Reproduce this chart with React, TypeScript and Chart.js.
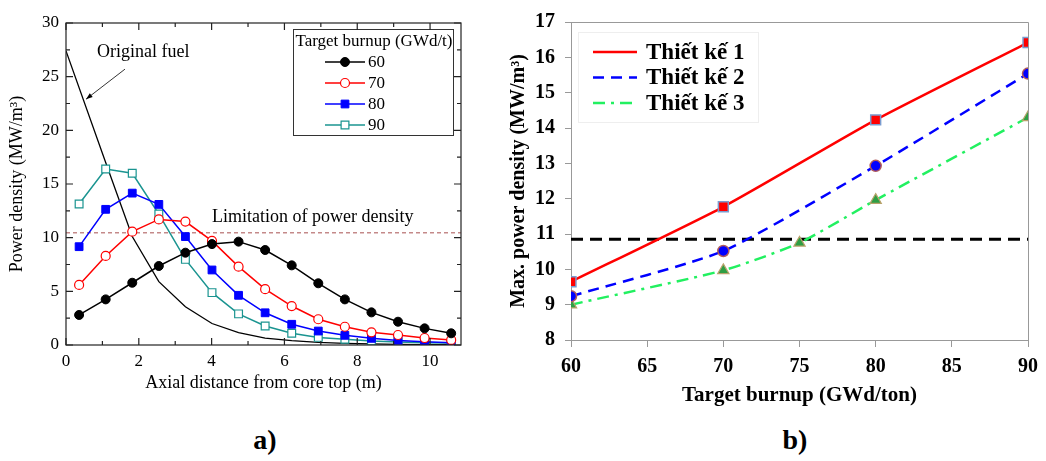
import React, { useEffect, useRef } from 'react';
import { Chart, registerables } from 'chart.js';

Chart.register(...registerables);

const SERIF = '"Liberation Serif", "Times New Roman", serif';

// ---------- Chart a) : axial power density ----------
const axialPositions = [0.36, 1.09, 1.82, 2.55, 3.28, 4.01, 4.74, 5.47, 6.2, 6.93, 7.66, 8.39, 9.12, 9.85, 10.58];
const burnupLabelsA = ['60', '70', '80', '90'];
const density60 = [2.8, 4.25, 5.8, 7.36, 8.6, 9.4, 9.63, 8.85, 7.42, 5.75, 4.25, 3.04, 2.17, 1.55, 1.09];
const density70 = [5.6, 8.3, 10.56, 11.7, 11.5, 9.7, 7.3, 5.2, 3.63, 2.4, 1.7, 1.18, 0.93, 0.65, 0.47];
const density80 = [9.16, 12.64, 14.15, 13.1, 10.1, 6.99, 4.63, 3.0, 1.93, 1.3, 0.9, 0.62, 0.43, 0.31, 0.22];
const density90 = [13.14, 16.4, 16.0, 12.2, 7.98, 4.88, 2.9, 1.77, 1.09, 0.71, 0.53, 0.37, 0.28, 0.22, 0.19];
const originalFuelX = [0, 1.09, 1.82, 2.55, 3.28, 4.01, 4.74, 5.47, 6.2, 6.93, 7.66, 8.39, 9.12, 9.85, 10.58];
const originalFuelY = [27.4, 17.0, 10.1, 5.9, 3.57, 2.0, 1.15, 0.65, 0.4, 0.25, 0.16, 0.1, 0.06, 0.04, 0.03];
const limitA = 10.45;
const xRangeA = [0, 10.85];
const yRangeA = [0, 30];

// ---------- Chart b) : max power density vs burnup ----------
const burnupB = [60, 70, 80, 90];
const burnupB3 = [60, 70, 75, 80, 90];
const designLabels = ['Thiết kế 1', 'Thiết kế 2', 'Thiết kế 3'];
const design1 = [9.65, 11.77, 14.23, 16.42];
const design2 = [9.24, 10.52, 12.93, 15.54];
const design3 = [9.0, 9.97, 10.75, 11.96, 14.3];
const limitB = 10.85;
const xRangeB = [60, 90];
const yRangeB = [8, 17];

const pts = (xs: number[], ys: number[]) => xs.map((x, i) => ({ x, y: ys[i] }));

function drawMarker(ctx: CanvasRenderingContext2D, style: string, x: number, y: number, r: number, fill: string, stroke: string, lw: number) {
  ctx.beginPath();
  if (style === 'rect') {
    const s = r * Math.SQRT1_2;
    ctx.rect(x - s, y - s, 2 * s, 2 * s);
  } else {
    ctx.arc(x, y, r, 0, Math.PI * 2);
  }
  ctx.fillStyle = fill;
  ctx.fill();
  ctx.lineWidth = lw;
  ctx.strokeStyle = stroke;
  ctx.stroke();
}

const legendA = {
  id: 'legendA',
  afterDraw(chart: any) {
    const ctx: CanvasRenderingContext2D = chart.ctx;
    ctx.save();
    ctx.fillStyle = '#fff';
    ctx.fillRect(293.5, 29.5, 160, 106);
    ctx.strokeStyle = '#333';
    ctx.lineWidth = 1;
    ctx.strokeRect(293.5, 29.5, 160, 106);
    ctx.font = `17px ${SERIF}`;
    ctx.fillStyle = '#000';
    ctx.textBaseline = 'middle';
    ctx.textAlign = 'left';
    ctx.fillText('Target burnup (GWd/t)', 295.5, 42, 157);
    for (let i = 0; i < 4; i++) {
      const ds = chart.data.datasets[i];
      const y = 62 + i * 21;
      ctx.beginPath();
      ctx.moveTo(325, y);
      ctx.lineTo(365, y);
      ctx.strokeStyle = ds.borderColor;
      ctx.lineWidth = 1.5;
      ctx.stroke();
      drawMarker(ctx, ds.pointStyle, 345, y, ds.pointRadius, ds.pointBackgroundColor, ds.pointBorderColor, ds.pointBorderWidth);
      ctx.fillStyle = '#000';
      ctx.fillText(ds.label, 368, y + 1);
    }
    ctx.restore();
  },
};

const annotA = {
  id: 'annotA',
  afterDatasetsDraw(chart: any) {
    const ctx: CanvasRenderingContext2D = chart.ctx;
    const { x, y } = chart.scales;
    ctx.save();
    ctx.font = `18px ${SERIF}`;
    ctx.fillStyle = '#000';
    ctx.textBaseline = 'middle';
    ctx.textAlign = 'left';
    ctx.fillText('Original fuel', x.getPixelForValue(0.85), y.getPixelForValue(27.3));
    ctx.fillText('Limitation of power density', x.getPixelForValue(4.01), y.getPixelForValue(11.93));
    const x0 = x.getPixelForValue(1.62), y0 = y.getPixelForValue(25.7);
    const x1 = x.getPixelForValue(0.55), y1 = y.getPixelForValue(22.9);
    ctx.beginPath();
    ctx.moveTo(x0, y0);
    ctx.lineTo(x1, y1);
    ctx.strokeStyle = '#000';
    ctx.lineWidth = 0.8;
    ctx.stroke();
    const ang = Math.atan2(y1 - y0, x1 - x0);
    ctx.beginPath();
    ctx.moveTo(x1, y1);
    ctx.lineTo(x1 - 7 * Math.cos(ang - 0.35), y1 - 7 * Math.sin(ang - 0.35));
    ctx.lineTo(x1 - 7 * Math.cos(ang + 0.35), y1 - 7 * Math.sin(ang + 0.35));
    ctx.closePath();
    ctx.fillStyle = '#000';
    ctx.fill();
    ctx.restore();
  },
};

const innerTicks = {
  id: 'innerTicks',
  afterDraw(chart: any) {
    const ctx: CanvasRenderingContext2D = chart.ctx;
    const a = chart.chartArea;
    const { x, y } = chart.scales;
    ctx.save();
    ctx.strokeStyle = '#222';
    ctx.lineWidth = 1.2;
    ctx.strokeRect(a.left, a.top, a.right - a.left, a.bottom - a.top);
    ctx.beginPath();
    x.ticks.forEach((t: any) => {
      const px = x.getPixelForValue(t.value);
      const len = t.label ? 7 : 4;
      ctx.moveTo(px, a.bottom);
      ctx.lineTo(px, a.bottom - len);
      ctx.moveTo(px, a.top);
      ctx.lineTo(px, a.top + len);
    });
    y.ticks.forEach((t: any) => {
      const py = y.getPixelForValue(t.value);
      const len = t.label ? 7 : 4;
      ctx.moveTo(a.left, py);
      ctx.lineTo(a.left + len, py);
      ctx.moveTo(a.right, py);
      ctx.lineTo(a.right - len, py);
    });
    ctx.stroke();
    ctx.restore();
  },
};

const frameB = {
  id: 'frameB',
  afterDraw(chart: any) {
    const ctx: CanvasRenderingContext2D = chart.ctx;
    const a = chart.chartArea;
    ctx.save();
    ctx.strokeStyle = '#999';
    ctx.lineWidth = 1;
    ctx.beginPath();
    ctx.moveTo(a.left, a.top + 0.5);
    ctx.lineTo(a.right + 0.5, a.top + 0.5);
    ctx.lineTo(a.right + 0.5, a.bottom);
    ctx.stroke();
    ctx.restore();
  },
};

const legendB = {
  id: 'legendB',
  afterDraw(chart: any) {
    const ctx: CanvasRenderingContext2D = chart.ctx;
    ctx.save();
    ctx.fillStyle = '#fff';
    ctx.fillRect(98.5, 32.5, 180, 90);
    ctx.strokeStyle = '#eeeeee';
    ctx.lineWidth = 1;
    ctx.strokeRect(98.5, 32.5, 180, 90);
    ctx.font = `bold 23px ${SERIF}`;
    ctx.textBaseline = 'middle';
    ctx.textAlign = 'left';
    for (let i = 0; i < 3; i++) {
      const ds = chart.data.datasets[i];
      const y = 52 + i * 25.5;
      ctx.beginPath();
      ctx.setLineDash(ds.borderDash || []);
      ctx.moveTo(113, y);
      ctx.lineTo(157, y);
      ctx.strokeStyle = ds.borderColor;
      ctx.lineWidth = ds.borderWidth;
      ctx.stroke();
      ctx.setLineDash([]);
      ctx.fillStyle = '#000';
      ctx.fillText(ds.label, 166, y + 1);
    }
    ctx.restore();
  },
};

function useChart(ref: React.RefObject<HTMLCanvasElement>, makeConfig: () => any) {
  useEffect(() => {
    if (!ref.current) return;
    const chart = new Chart(ref.current, makeConfig());
    return () => chart.destroy();
  }, []);
}

function ChartA() {
  const ref = useRef<HTMLCanvasElement>(null);
  useChart(ref, () => ({
    type: 'line',
    data: {
      datasets: [
        { label: burnupLabelsA[0], data: pts(axialPositions, density60), borderColor: '#000', borderWidth: 1.5, pointStyle: 'circle', pointRadius: 4.5, pointBackgroundColor: '#000', pointBorderColor: '#000', pointBorderWidth: 1 },
        { label: burnupLabelsA[1], data: pts(axialPositions, density70), borderColor: '#ff0000', borderWidth: 1.5, pointStyle: 'circle', pointRadius: 4.5, pointBackgroundColor: '#fff', pointBorderColor: '#ff0000', pointBorderWidth: 1.2 },
        { label: burnupLabelsA[2], data: pts(axialPositions, density80), borderColor: '#0000ff', borderWidth: 1.5, pointStyle: 'rect', pointRadius: 5.5, pointBackgroundColor: '#0000ff', pointBorderColor: '#0000ff', pointBorderWidth: 1 },
        { label: burnupLabelsA[3], data: pts(axialPositions, density90), borderColor: '#1a9490', borderWidth: 1.5, pointStyle: 'rect', pointRadius: 5.5, pointBackgroundColor: '#fff', pointBorderColor: '#1a9490', pointBorderWidth: 1.2 },
        { label: 'Original fuel', data: pts(originalFuelX, originalFuelY), borderColor: '#000', borderWidth: 1.3, pointRadius: 0 },
        { label: 'Limitation of power density', data: pts(xRangeA, [limitA, limitA]), borderColor: '#a85050', borderWidth: 1, borderDash: [4, 3], pointRadius: 0 },
      ],
    },
    options: {
      animation: false,
      responsive: false,
      events: [],
      layout: { padding: { top: 23, right: 19, left: 0, bottom: 0 } },
      plugins: { legend: { display: false }, tooltip: { enabled: false } },
      scales: {
        x: {
          type: 'linear', min: xRangeA[0], max: xRangeA[1],
          grid: { display: false, drawTicks: false }, border: { display: false },
          ticks: { stepSize: 1, autoSkip: false, includeBounds: false, padding: 6, maxRotation: 0, color: '#000', font: { family: SERIF, size: 17 }, callback: (v: number) => (v % 2 === 0 ? String(v) : '') },
          title: { display: true, text: 'Axial distance from core top (m)', color: '#000', font: { family: SERIF, size: 18 }, padding: { top: 0, bottom: 6 } },
          afterFit: (s: any) => { s.height = 55; },
        },
        y: {
          type: 'linear', min: yRangeA[0], max: yRangeA[1],
          grid: { display: false, drawTicks: false }, border: { display: false },
          ticks: { stepSize: 2.5, autoSkip: false, includeBounds: false, padding: 7, color: '#000', font: { family: SERIF, size: 17 }, callback: (v: number) => (v % 5 === 0 ? String(v) : '') },
          title: { display: true, text: 'Power density (MW/m³)', color: '#000', font: { family: SERIF, size: 18 }, padding: { top: 6, bottom: 0 } },
          afterFit: (s: any) => { s.width = 66; },
        },
      },
    },
    plugins: [annotA, legendA, innerTicks],
  }));
  return <canvas ref={ref} width={480} height={400} style={{ position: 'absolute', left: 0, top: 0 }} />;
}

function ChartB() {
  const ref = useRef<HTMLCanvasElement>(null);
  useChart(ref, () => ({
    type: 'line',
    data: {
      datasets: [
        { label: designLabels[0], data: pts(burnupB, design1), borderColor: '#ff0000', borderWidth: 2.5, tension: 0.2, pointStyle: 'rect', pointRadius: 7, pointBackgroundColor: '#ff0000', pointBorderColor: '#7a9ccf', pointBorderWidth: 1.5 },
        { label: designLabels[1], data: pts(burnupB, design2), borderColor: '#0000ff', borderWidth: 2.5, borderDash: [11, 7], tension: 0.2, pointStyle: 'circle', pointRadius: 5.5, pointBackgroundColor: '#0000ff', pointBorderColor: '#b05a5a', pointBorderWidth: 1.5 },
        { label: designLabels[2], data: pts(burnupB3, design3), borderColor: '#22f060', borderWidth: 2.5, borderDash: [12, 6, 3, 6], tension: 0.2, pointStyle: 'triangle', pointRadius: 6.5, pointBackgroundColor: '#2e9e44', pointBorderColor: '#b8a26a', pointBorderWidth: 1.2 },
        { label: 'limit', data: pts(xRangeB, [limitB, limitB]), borderColor: '#000', borderWidth: 3, borderDash: [12, 7], pointRadius: 0 },
      ],
    },
    options: {
      animation: false,
      responsive: false,
      events: [],
      layout: { padding: { top: 16, right: 15, left: 0, bottom: 0 } },
      plugins: { legend: { display: false }, tooltip: { enabled: false } },
      scales: {
        x: {
          type: 'linear', min: xRangeB[0], max: xRangeB[1],
          grid: { display: true, drawOnChartArea: false, drawTicks: true, tickLength: 7, color: '#999' },
          border: { display: true, color: '#999' },
          ticks: { stepSize: 5, autoSkip: false, padding: 8, maxRotation: 0, color: '#000', font: { family: SERIF, size: 20, weight: 'bold' } },
          title: { display: true, text: 'Target burnup (GWd/ton)', color: '#000', font: { family: SERIF, size: 21, weight: 'bold' }, padding: { top: 0, bottom: 12 } },
          afterFit: (s: any) => { s.height = 80; },
        },
        y: {
          type: 'linear', min: yRangeB[0], max: yRangeB[1],
          grid: { display: true, drawOnChartArea: false, drawTicks: true, tickLength: 6, color: '#999' },
          border: { display: true, color: '#999' },
          ticks: { stepSize: 1, autoSkip: false, padding: 10, color: '#000', font: { family: SERIF, size: 20, weight: 'bold' } },
          title: { display: true, text: 'Max. power density (MW/m³)', color: '#000', font: { family: SERIF, size: 20, weight: 'bold' }, padding: { top: 27, bottom: 0 } },
          afterFit: (s: any) => { s.width = 91; },
        },
      },
    },
    plugins: [frameB, legendB],
  }));
  return <canvas ref={ref} width={566} height={420} style={{ position: 'absolute', left: 480, top: 0 }} />;
}

const panelLabel: React.CSSProperties = {
  position: 'absolute', top: 423, width: 100, textAlign: 'center', lineHeight: '34px',
  fontFamily: SERIF, fontWeight: 'bold', fontSize: 28, color: '#000',
};

export default function App() {
  return (
    <div style={{ position: 'fixed', left: 0, top: 0, width: 1046, height: 461, background: '#fff', overflow: 'hidden' }}>
      <ChartA />
      <ChartB />
      <div style={{ ...panelLabel, left: 215 }}>a)</div>
      <div style={{ ...panelLabel, left: 745 }}>b)</div>
    </div>
  );
}
